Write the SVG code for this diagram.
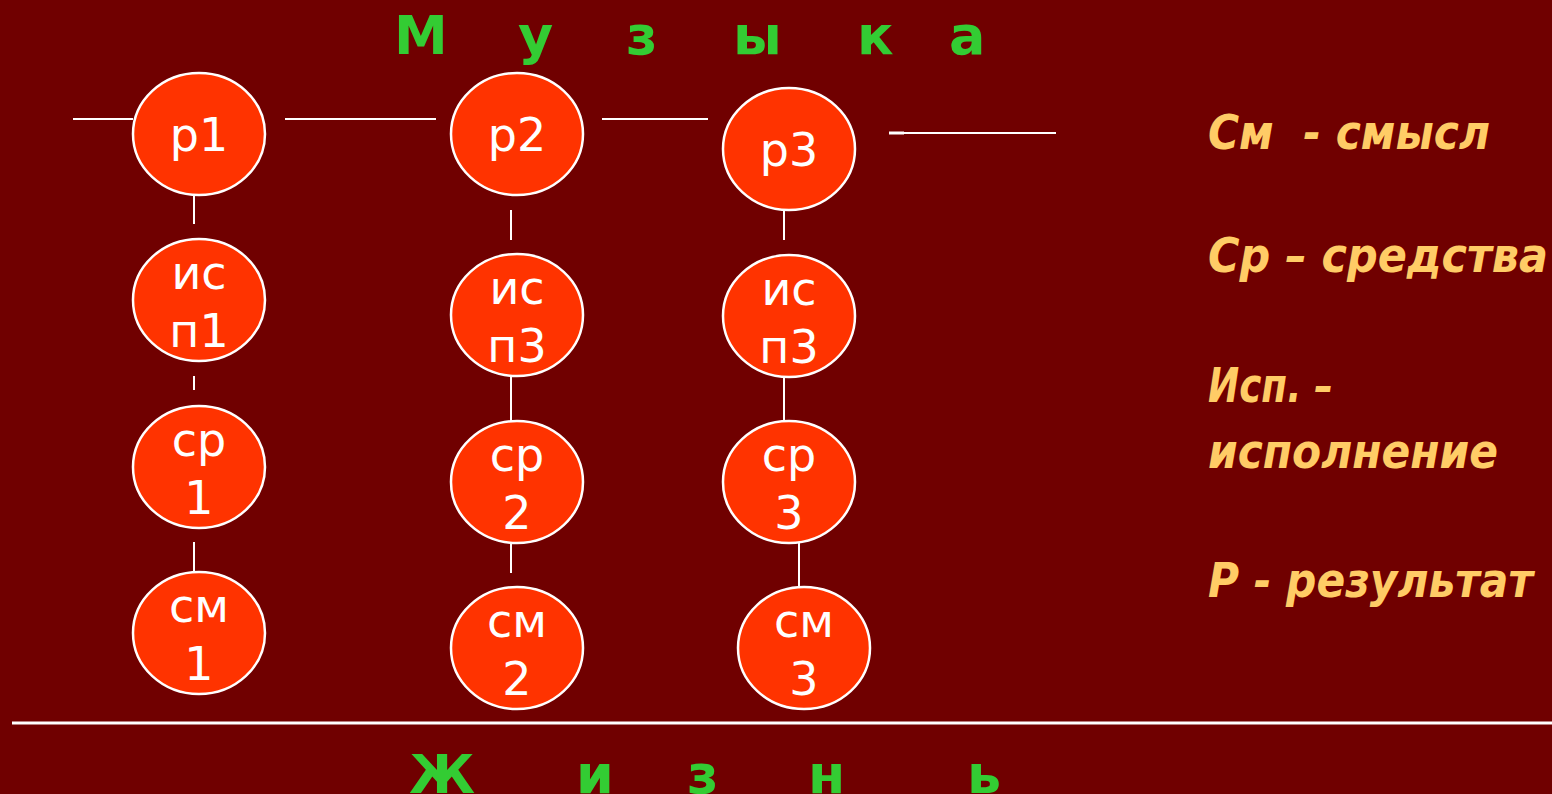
<svg xmlns="http://www.w3.org/2000/svg" width="1552" height="794" viewBox="0 0 1552 794">
<style>
.node ellipse{fill:#FF3300;stroke:#FFFFFF;stroke-width:2.5}
.node text{font-family:"DejaVu Sans","Noto Sans",sans-serif;font-size:46px;fill:#FFFFFF;text-anchor:middle}
.conn line{stroke:#FFFFFF;stroke-width:2}
.title text{font-family:"DejaVu Sans","Noto Sans",sans-serif;font-size:54px;font-weight:bold;fill:#33CC33}
.legend text{font-family:"DejaVu Sans Condensed","DejaVu Sans","Noto Sans",sans-serif;font-size:48px;font-weight:bold;font-style:italic;fill:#FFCC66}
</style>
<rect x="0" y="0" width="1552" height="794" fill="#700000"/>
<g class="title" id="title-top">
<text x="394" y="54">М</text>
<text x="518" y="54">у</text>
<text x="626" y="54">з</text>
<text x="733" y="54">ы</text>
<text x="857" y="54">к</text>
<text x="949" y="54">а</text>
</g>
<g class="title" id="title-bottom">
<text x="409" y="793">Ж</text>
<text x="576" y="793">и</text>
<text x="687" y="793">з</text>
<text x="808" y="793">н</text>
<text x="967" y="793">ь</text>
</g>
<g class="conn" id="connectors">
<line x1="73" y1="119" x2="133" y2="119"/>
<line x1="285" y1="119" x2="436" y2="119"/>
<line x1="602" y1="119" x2="708" y2="119"/>
<line x1="889" y1="133" x2="1056" y2="133"/>
<line x1="889" y1="133" x2="904" y2="133" style="stroke-width:3"/>
<line x1="194" y1="195" x2="194" y2="224"/>
<line x1="194" y1="376" x2="194" y2="390"/>
<line x1="194" y1="542" x2="194" y2="572"/>
<line x1="511" y1="210" x2="511" y2="240"/>
<line x1="511" y1="376" x2="511" y2="421"/>
<line x1="511" y1="543" x2="511" y2="573"/>
<line x1="784" y1="211" x2="784" y2="240"/>
<line x1="784" y1="377" x2="784" y2="421"/>
<line x1="799" y1="543" x2="799" y2="588"/>
<line x1="12" y1="723" x2="1552" y2="723" style="stroke-width:3"/>
</g>
<g class="node" id="p1"><ellipse cx="199" cy="134" rx="66" ry="61"/><text x="199" y="151">р1</text></g>
<g class="node" id="isp1"><ellipse cx="199" cy="300" rx="66" ry="61"/><text x="199" y="289">ис</text><text x="199" y="347">п1</text></g>
<g class="node" id="sr1"><ellipse cx="199" cy="467" rx="66" ry="61"/><text x="199" y="456">ср</text><text x="199" y="514">1</text></g>
<g class="node" id="sm1"><ellipse cx="199" cy="633" rx="66" ry="61"/><text x="199" y="622">см</text><text x="199" y="680">1</text></g>
<g class="node" id="p2"><ellipse cx="517" cy="134" rx="66" ry="61"/><text x="517" y="151">р2</text></g>
<g class="node" id="isp2"><ellipse cx="517" cy="315" rx="66" ry="61"/><text x="517" y="304">ис</text><text x="517" y="362">п3</text></g>
<g class="node" id="sr2"><ellipse cx="517" cy="482" rx="66" ry="61"/><text x="517" y="471">ср</text><text x="517" y="529">2</text></g>
<g class="node" id="sm2"><ellipse cx="517" cy="648" rx="66" ry="61"/><text x="517" y="637">см</text><text x="517" y="695">2</text></g>
<g class="node" id="p3"><ellipse cx="789" cy="149" rx="66" ry="61"/><text x="789" y="166">р3</text></g>
<g class="node" id="isp3"><ellipse cx="789" cy="316" rx="66" ry="61"/><text x="789" y="305">ис</text><text x="789" y="363">п3</text></g>
<g class="node" id="sr3"><ellipse cx="789" cy="482" rx="66" ry="61"/><text x="789" y="471">ср</text><text x="789" y="529">3</text></g>
<g class="node" id="sm3"><ellipse cx="804" cy="648" rx="66" ry="61"/><text x="804" y="637">см</text><text x="804" y="695">3</text></g>
<g class="legend" id="legend">
<text x="1208" y="149" textLength="282" lengthAdjust="spacingAndGlyphs" xml:space="preserve">См  - смысл</text>
<text x="1208" y="272" textLength="340" lengthAdjust="spacingAndGlyphs">Ср – средства</text>
<text x="1208" y="402" textLength="125" lengthAdjust="spacingAndGlyphs">Исп. –</text>
<text x="1208" y="468" textLength="290" lengthAdjust="spacingAndGlyphs">исполнение</text>
<text x="1208" y="597" textLength="325" lengthAdjust="spacingAndGlyphs">Р - результат</text>
</g>
</svg>
